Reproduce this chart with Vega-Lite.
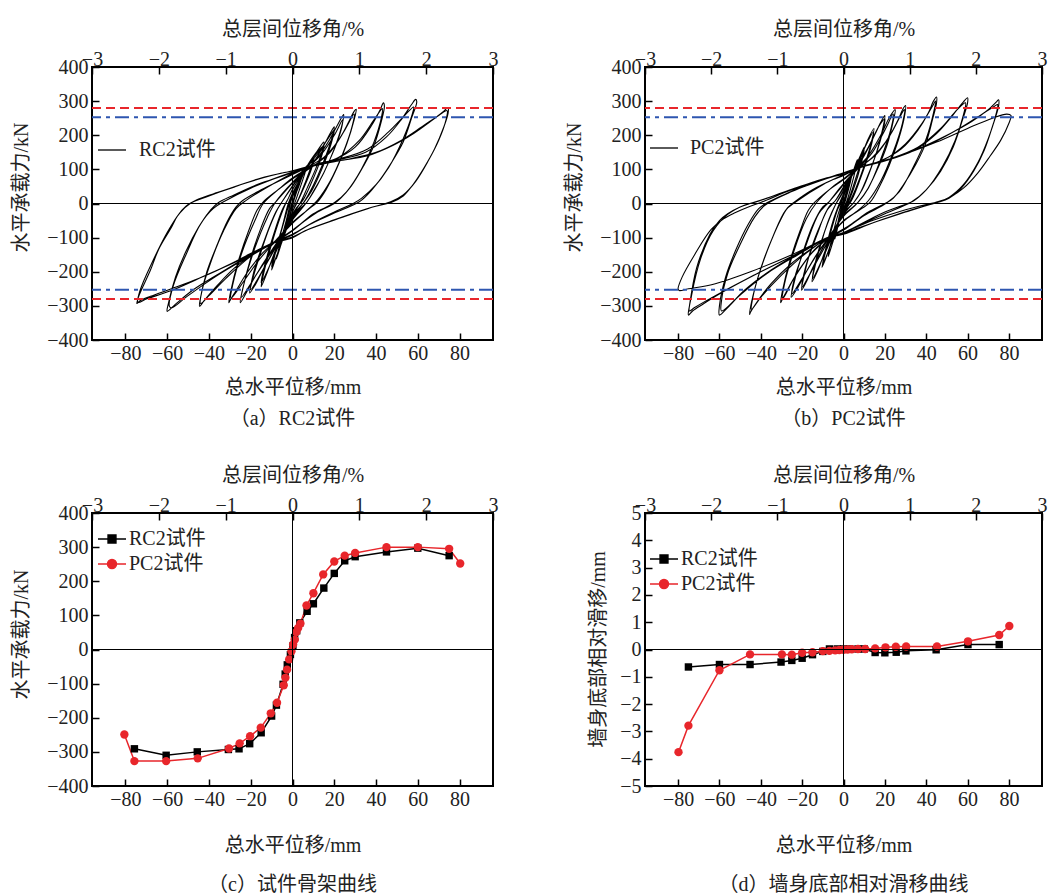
{
"$schema": "https://vega.github.io/schema/vega-lite/v6.json",
"padding": {"left": 10, "top": 18, "right": 0, "bottom": 0},
"background": "white",
"config": {
  "font": "Liberation Serif, Noto Sans CJK SC",
  "view": {"stroke": "black", "strokeWidth": 2},
  "axis": {"grid": false, "domain": false, "tickColor": "black", "tickWidth": 1.5, "tickSize": -7, "labelPadding": 11, "labelFontSize": 20, "titleFontSize": 20, "labelColor": "#222", "titleColor": "#222", "titleFontWeight": "normal", "labelFlush": false, "labelOverlap": false, "tickCount": 30, "labelFont": "Liberation Serif, Noto Sans CJK SC", "titleFont": "Liberation Serif, Noto Sans CJK SC"},
  "axisTop": {"labelPadding": 5},
  "axisBottom": {"labelPadding": 10},
  "legend": {"labelFontSize": 20, "labelColor": "#222", "padding": 0, "symbolSize": 784, "symbolStrokeWidth": 1.3, "labelFont": "Liberation Serif, Noto Sans CJK SC", "rowPadding": -11, "symbolOpacity": 1},
  "title": {"fontSize": 20, "fontWeight": "normal", "color": "#222", "font": "Liberation Serif, Noto Sans CJK SC"}
},
"datasets": {
  "zero": [{"v": 0}],
  "red": [{"y": 280}, {"y": -280}],
  "blue": [{"y": 253}, {"y": -253}],
  "legA": [{"k": "RC2试件", "x": 0, "y": 0}],
  "legB": [{"k": "PC2试件", "x": 0, "y": 0}],
  "legCD": [{"k": "RC2试件", "x": 0, "y": 0}, {"k": "PC2试件", "x": 0, "y": 0}],
  "rc": [
{"x":0,"y":0},{"x":1,"y":25},{"x":2,"y":50},{"x":1.2,"y":30},{"x":0,"y":0},{"x":-0.8,"y":-25},{"x":-1.5,"y":-45},{"x":-0.8,"y":-25},{"x":0,"y":0},
{"x":2,"y":45},{"x":4,"y":78},{"x":3,"y":55},{"x":1,"y":15},{"x":0,"y":-5},{"x":-2,"y":-50},{"x":-4.5,"y":-102},{"x":-3.5,"y":-75},{"x":-1.5,"y":-25},{"x":0,"y":5},
{"x":3,"y":50},{"x":5,"y":85},{"x":7,"y":112},{"x":6,"y":90},{"x":3,"y":35},{"x":1,"y":0},{"x":-1,"y":-30},{"x":-4,"y":-90},{"x":-7.7,"y":-163},{"x":-6.5,"y":-130},{"x":-3,"y":-50},{"x":-1,"y":0},{"x":0,"y":20},
{"x":3,"y":55},{"x":6,"y":95},{"x":8.5,"y":118},{"x":10,"y":134},{"x":9,"y":110},{"x":6,"y":60},{"x":3,"y":15},{"x":1,"y":-10},{"x":-2,"y":-55},{"x":-5,"y":-110},{"x":-8,"y":-160},{"x":-10,"y":-195},{"x":-9,"y":-165},{"x":-6,"y":-95},{"x":-3,"y":-30},{"x":-1.5,"y":0},{"x":0,"y":25},
{"x":3,"y":60},{"x":7,"y":105},{"x":10,"y":128},{"x":9,"y":100},{"x":5,"y":40},{"x":2,"y":0},{"x":0,"y":-25},{"x":-4,"y":-95},{"x":-7,"y":-145},{"x":-10,"y":-185},{"x":-8.5,"y":-145},{"x":-5,"y":-70},{"x":-2,"y":0},{"x":0,"y":30},
{"x":4,"y":75},{"x":8,"y":120},{"x":12,"y":155},{"x":15,"y":180},{"x":14,"y":150},{"x":11,"y":100},{"x":7,"y":45},{"x":4,"y":5},{"x":2,"y":-15},{"x":0,"y":-35},{"x":-4,"y":-85},{"x":-8,"y":-135},{"x":-12,"y":-200},{"x":-15,"y":-244},{"x":-14,"y":-210},{"x":-11,"y":-140},{"x":-7,"y":-60},{"x":-4,"y":-10},{"x":-2,"y":15},{"x":0,"y":40},
{"x":5,"y":90},{"x":10,"y":135},{"x":15,"y":170},{"x":13.5,"y":130},{"x":9,"y":60},{"x":5,"y":10},{"x":2,"y":-12},{"x":0,"y":-32},{"x":-5,"y":-100},{"x":-10,"y":-170},{"x":-15,"y":-232},{"x":-13.5,"y":-185},{"x":-9,"y":-90},{"x":-5,"y":-20},{"x":-2,"y":15},{"x":0,"y":42},
{"x":5,"y":85},{"x":10,"y":120},{"x":15,"y":170},{"x":18,"y":205},{"x":20,"y":225},{"x":19,"y":195},{"x":16,"y":140},{"x":12,"y":80},{"x":8,"y":30},{"x":5,"y":0},{"x":2,"y":-20},{"x":0,"y":-40},{"x":-5,"y":-95},{"x":-10,"y":-150},{"x":-15,"y":-205},{"x":-18,"y":-240},{"x":-20.5,"y":-262},{"x":-19,"y":-220},{"x":-15,"y":-140},{"x":-11,"y":-70},{"x":-7,"y":-15},{"x":-5,"y":5},{"x":0,"y":50},
{"x":6,"y":100},{"x":12,"y":145},{"x":17,"y":190},{"x":20,"y":215},{"x":18.5,"y":175},{"x":14,"y":100},{"x":9,"y":35},{"x":5,"y":0},{"x":0,"y":-40},{"x":-6,"y":-105},{"x":-12,"y":-170},{"x":-17,"y":-225},{"x":-20,"y":-252},{"x":-18.5,"y":-200},{"x":-13,"y":-100},{"x":-8,"y":-25},{"x":-5,"y":5},{"x":0,"y":52},
{"x":6,"y":105},{"x":12,"y":135},{"x":18,"y":190},{"x":22,"y":235},{"x":24.5,"y":261},{"x":23.5,"y":225},{"x":20,"y":160},{"x":15,"y":90},{"x":10,"y":35},{"x":7,"y":5},{"x":3,"y":-20},{"x":0,"y":-45},{"x":-6,"y":-105},{"x":-12,"y":-160},{"x":-18,"y":-215},{"x":-22,"y":-260},{"x":-25,"y":-291},{"x":-24,"y":-255},{"x":-20,"y":-160},{"x":-15,"y":-70},{"x":-11,"y":-15},{"x":-8,"y":5},{"x":0,"y":60},
{"x":8,"y":108},{"x":14,"y":145},{"x":20,"y":200},{"x":24,"y":245},{"x":23,"y":210},{"x":18,"y":130},{"x":12,"y":55},{"x":7,"y":5},{"x":0,"y":-48},{"x":-7,"y":-110},{"x":-14,"y":-175},{"x":-20,"y":-235},{"x":-24.5,"y":-275},{"x":-23,"y":-230},{"x":-18,"y":-130},{"x":-12,"y":-40},{"x":-8,"y":5},{"x":0,"y":62},
{"x":8,"y":108},{"x":15,"y":135},{"x":22,"y":185},{"x":27,"y":240},{"x":29.5,"y":270},{"x":30.5,"y":276},{"x":29.5,"y":245},{"x":26,"y":175},{"x":21,"y":100},{"x":16,"y":40},{"x":12,"y":5},{"x":7,"y":-20},{"x":0,"y":-55},{"x":-8,"y":-108},{"x":-15,"y":-150},{"x":-22,"y":-205},{"x":-27,"y":-255},{"x":-30,"y":-285},{"x":-30.5,"y":-291},{"x":-29.5,"y":-255},{"x":-26,"y":-170},{"x":-21,"y":-80},{"x":-17,"y":-20},{"x":-14,"y":5},{"x":-7,"y":40},{"x":0,"y":72},
{"x":10,"y":110},{"x":18,"y":150},{"x":25,"y":215},{"x":29.5,"y":262},{"x":28.5,"y":225},{"x":24,"y":145},{"x":18,"y":65},{"x":12,"y":10},{"x":6,"y":-25},{"x":0,"y":-58},{"x":-8,"y":-110},{"x":-16,"y":-165},{"x":-23,"y":-225},{"x":-29.5,"y":-278},{"x":-28.5,"y":-235},{"x":-24,"y":-140},{"x":-18,"y":-50},{"x":-14,"y":0},{"x":-6,"y":45},{"x":0,"y":75},
{"x":10,"y":110},{"x":20,"y":128},{"x":30,"y":165},{"x":38,"y":230},{"x":42,"y":275},{"x":43.5,"y":295},{"x":44,"y":285},{"x":42.5,"y":240},{"x":39,"y":170},{"x":34,"y":110},{"x":28,"y":50},{"x":23,"y":15},{"x":20,"y":0},{"x":12,"y":-25},{"x":5,"y":-55},{"x":0,"y":-78},{"x":-8,"y":-110},{"x":-18,"y":-145},{"x":-28,"y":-190},{"x":-36,"y":-240},{"x":-42,"y":-282},{"x":-44.5,"y":-301},{"x":-44,"y":-275},{"x":-41,"y":-200},{"x":-36,"y":-120},{"x":-31,"y":-50},{"x":-27,"y":-10},{"x":-24,"y":8},{"x":-15,"y":40},{"x":-5,"y":70},{"x":0,"y":85},
{"x":10,"y":112},{"x":22,"y":135},{"x":32,"y":185},{"x":39,"y":245},{"x":43,"y":278},{"x":42.5,"y":250},{"x":39,"y":180},{"x":33,"y":100},{"x":26,"y":35},{"x":20,"y":2},{"x":10,"y":-30},{"x":0,"y":-80},{"x":-8,"y":-112},{"x":-20,"y":-155},{"x":-32,"y":-220},{"x":-40,"y":-270},{"x":-44,"y":-293},{"x":-43.5,"y":-260},{"x":-39,"y":-170},{"x":-33,"y":-80},{"x":-27,"y":-15},{"x":-22,"y":10},{"x":-10,"y":55},{"x":0,"y":88},
{"x":10,"y":112},{"x":20,"y":126},{"x":35,"y":150},{"x":45,"y":195},{"x":52,"y":245},{"x":57,"y":290},{"x":59,"y":305},{"x":59.5,"y":298},{"x":57,"y":250},{"x":53,"y":180},{"x":47.5,"y":121},{"x":40,"y":55},{"x":33,"y":15},{"x":29,"y":0},{"x":20,"y":-25},{"x":10,"y":-55},{"x":0,"y":-90},{"x":-8,"y":-110},{"x":-20,"y":-150},{"x":-35,"y":-205},{"x":-48,"y":-255},{"x":-56,"y":-295},{"x":-60,"y":-316},{"x":-59.5,"y":-295},{"x":-56,"y":-215},{"x":-51,"y":-140},{"x":-45,"y":-70},{"x":-40,"y":-25},{"x":-36,"y":0},{"x":-28,"y":25},{"x":-15,"y":60},{"x":0,"y":90},
{"x":10,"y":112},{"x":22,"y":130},{"x":36,"y":160},{"x":46,"y":210},{"x":54,"y":260},{"x":58,"y":283},{"x":57,"y":255},{"x":53,"y":190},{"x":46,"y":105},{"x":38,"y":40},{"x":32,"y":5},{"x":20,"y":-28},{"x":8,"y":-62},{"x":0,"y":-92},{"x":-8,"y":-112},{"x":-22,"y":-160},{"x":-37,"y":-215},{"x":-50,"y":-270},{"x":-58,"y":-306},{"x":-59,"y":-300},{"x":-57,"y":-240},{"x":-51,"y":-150},{"x":-44,"y":-60},{"x":-38,"y":-15},{"x":-33,"y":5},{"x":-20,"y":45},{"x":0,"y":92},
{"x":10,"y":110},{"x":22,"y":125},{"x":36,"y":140},{"x":48,"y":170},{"x":58,"y":205},{"x":66,"y":240},{"x":72,"y":268},{"x":74.5,"y":281},{"x":74.5,"y":265},{"x":72.5,"y":225},{"x":68,"y":160},{"x":63,"y":105},{"x":58,"y":58},{"x":53,"y":22},{"x":47.5,"y":4},{"x":38,"y":-11},{"x":24,"y":-40},{"x":8,"y":-75},{"x":0,"y":-98},{"x":-8,"y":-112},{"x":-18,"y":-140},{"x":-30,"y":-178},{"x":-45,"y":-220},{"x":-58,"y":-250},{"x":-68,"y":-272},{"x":-73,"y":-285},{"x":-74.5,"y":-293},{"x":-73.5,"y":-270},{"x":-68,"y":-195},{"x":-64,"y":-133},{"x":-58,"y":-70},{"x":-55,"y":-36},{"x":-51,"y":-8},{"x":-46,"y":10},{"x":-38,"y":28},{"x":-28,"y":48},{"x":-15,"y":75},{"x":0,"y":96},
{"x":10,"y":112},{"x":25,"y":128},{"x":40,"y":150},{"x":52,"y":185},{"x":62,"y":225},{"x":70,"y":258},{"x":74,"y":272},{"x":73.5,"y":245},{"x":70,"y":185},{"x":65,"y":125},{"x":59,"y":65},{"x":53,"y":25},{"x":47,"y":5},{"x":36,"y":-15},{"x":20,"y":-48},{"x":6,"y":-80},{"x":0,"y":-100},{"x":-10,"y":-118},{"x":-25,"y":-165},{"x":-42,"y":-212},{"x":-58,"y":-255},{"x":-70,"y":-280},{"x":-74,"y":-290},{"x":-73,"y":-255},{"x":-67,"y":-170},{"x":-60,"y":-85},{"x":-54,"y":-28},{"x":-49,"y":0},{"x":-40,"y":22},{"x":-25,"y":55},{"x":-10,"y":82},{"x":0,"y":95}
  ],
  "pc": [
{"x":0,"y":0},{"x":0.5,"y":15},{"x":1.1,"y":29},{"x":0.5,"y":12},{"x":0,"y":0},{"x":-0.8,"y":-15},{"x":-1.6,"y":-29},{"x":-0.8,"y":-12},{"x":0,"y":0},
{"x":1.5,"y":35},{"x":2.7,"y":63},{"x":2,"y":40},{"x":0.5,"y":5},{"x":0,"y":-5},{"x":-1.5,"y":-35},{"x":-2.6,"y":-59},{"x":-1.8,"y":-35},{"x":0,"y":5},
{"x":2,"y":45},{"x":3.8,"y":76},{"x":3,"y":55},{"x":1,"y":10},{"x":0,"y":-8},{"x":-2,"y":-50},{"x":-4.2,"y":-105},{"x":-3.2,"y":-70},{"x":-1,"y":-10},{"x":0,"y":8},
{"x":3,"y":60},{"x":5,"y":100},{"x":6.7,"y":129},{"x":6,"y":105},{"x":3.5,"y":45},{"x":1.5,"y":5},{"x":0,"y":-15},{"x":-3,"y":-70},{"x":-5.5,"y":-120},{"x":-7.4,"y":-156},{"x":-6.5,"y":-125},{"x":-3.5,"y":-50},{"x":-1,"y":0},{"x":0,"y":20},
{"x":3,"y":65},{"x":6,"y":110},{"x":8.5,"y":145},{"x":10,"y":165},{"x":9,"y":135},{"x":6,"y":75},{"x":3,"y":20},{"x":1.5,"y":0},{"x":0,"y":-18},{"x":-3,"y":-65},{"x":-6,"y":-115},{"x":-8.5,"y":-160},{"x":-10.4,"y":-187},{"x":-9,"y":-150},{"x":-6,"y":-80},{"x":-3,"y":-20},{"x":-1.5,"y":0},{"x":0,"y":25},
{"x":4,"y":80},{"x":8,"y":135},{"x":10,"y":158},{"x":8.5,"y":115},{"x":5,"y":45},{"x":2,"y":0},{"x":0,"y":-20},{"x":-4,"y":-85},{"x":-8,"y":-150},{"x":-10.2,"y":-180},{"x":-8.5,"y":-130},{"x":-5,"y":-50},{"x":-2,"y":0},{"x":0,"y":28},
{"x":4,"y":80},{"x":8,"y":130},{"x":12,"y":190},{"x":14.7,"y":220},{"x":13.5,"y":180},{"x":10,"y":110},{"x":6,"y":45},{"x":3,"y":5},{"x":0,"y":-25},{"x":-4,"y":-75},{"x":-8,"y":-125},{"x":-12,"y":-190},{"x":-15.2,"y":-229},{"x":-14,"y":-190},{"x":-10.5,"y":-110},{"x":-7,"y":-45},{"x":-4,"y":-5},{"x":0,"y":35},
{"x":5,"y":95},{"x":10,"y":160},{"x":14.5,"y":210},{"x":13,"y":160},{"x":8,"y":70},{"x":4,"y":10},{"x":0,"y":-28},{"x":-5,"y":-90},{"x":-10,"y":-160},{"x":-15,"y":-220},{"x":-13.5,"y":-170},{"x":-9,"y":-80},{"x":-4,"y":-5},{"x":0,"y":38},
{"x":5,"y":90},{"x":10,"y":140},{"x":15,"y":200},{"x":18,"y":238},{"x":20,"y":258},{"x":19,"y":220},{"x":16,"y":150},{"x":12,"y":85},{"x":8,"y":30},{"x":5,"y":3},{"x":2,"y":-15},{"x":0,"y":-30},{"x":-5,"y":-80},{"x":-10,"y":-130},{"x":-15,"y":-190},{"x":-18,"y":-230},{"x":-20.3,"y":-254},{"x":-19,"y":-210},{"x":-15.5,"y":-130},{"x":-11,"y":-60},{"x":-7,"y":-10},{"x":-4,"y":8},{"x":0,"y":45},
{"x":6,"y":105},{"x":12,"y":165},{"x":17,"y":225},{"x":20,"y":248},{"x":18.5,"y":200},{"x":14,"y":115},{"x":9,"y":40},{"x":5,"y":3},{"x":0,"y":-32},{"x":-6,"y":-95},{"x":-12,"y":-160},{"x":-17,"y":-215},{"x":-20,"y":-245},{"x":-18.5,"y":-190},{"x":-13,"y":-95},{"x":-8,"y":-20},{"x":-4,"y":8},{"x":0,"y":48},
{"x":6,"y":100},{"x":12,"y":140},{"x":18,"y":200},{"x":22,"y":250},{"x":25,"y":275},{"x":24,"y":240},{"x":21,"y":170},{"x":16,"y":95},{"x":11,"y":35},{"x":7,"y":3},{"x":3,"y":-18},{"x":0,"y":-35},{"x":-6,"y":-90},{"x":-12,"y":-140},{"x":-18,"y":-200},{"x":-22,"y":-245},{"x":-25.3,"y":-275},{"x":-24,"y":-235},{"x":-20,"y":-150},{"x":-15,"y":-65},{"x":-10,"y":-10},{"x":-7,"y":5},{"x":0,"y":55},
{"x":7,"y":102},{"x":14,"y":150},{"x":20,"y":215},{"x":24,"y":262},{"x":23,"y":220},{"x":18,"y":130},{"x":12,"y":45},{"x":7,"y":3},{"x":0,"y":-38},{"x":-7,"y":-97},{"x":-14,"y":-160},{"x":-20,"y":-220},{"x":-25,"y":-265},{"x":-23.5,"y":-215},{"x":-18,"y":-120},{"x":-12,"y":-30},{"x":-7,"y":5},{"x":0,"y":58},
{"x":7,"y":102},{"x":14,"y":135},{"x":21,"y":185},{"x":26,"y":240},{"x":29,"y":280},{"x":30,"y":287},{"x":29.5,"y":255},{"x":26.5,"y":185},{"x":22,"y":110},{"x":17,"y":45},{"x":13,"y":5},{"x":7,"y":-22},{"x":0,"y":-50},{"x":-6.5,"y":-96},{"x":-14,"y":-135},{"x":-21,"y":-190},{"x":-26,"y":-240},{"x":-29.5,"y":-280},{"x":-30.4,"y":-291},{"x":-29.5,"y":-255},{"x":-26,"y":-170},{"x":-21,"y":-80},{"x":-17,"y":-20},{"x":-14,"y":3},{"x":-7,"y":40},{"x":0,"y":70},
{"x":7,"y":103},{"x":16,"y":145},{"x":23,"y":205},{"x":28,"y":262},{"x":29.5,"y":275},{"x":28.5,"y":235},{"x":24,"y":150},{"x":18,"y":65},{"x":12,"y":8},{"x":6,"y":-25},{"x":0,"y":-52},{"x":-7,"y":-98},{"x":-16,"y":-150},{"x":-24,"y":-220},{"x":-29.5,"y":-280},{"x":-28.5,"y":-235},{"x":-24,"y":-140},{"x":-18,"y":-45},{"x":-13,"y":3},{"x":-6,"y":45},{"x":0,"y":72},
{"x":7,"y":103},{"x":18,"y":125},{"x":28,"y":160},{"x":36,"y":215},{"x":41,"y":265},{"x":43.5,"y":300},{"x":45,"y":312},{"x":45,"y":295},{"x":43,"y":245},{"x":40,"y":180},{"x":35,"y":115},{"x":29,"y":55},{"x":24,"y":15},{"x":20,"y":0},{"x":12,"y":-25},{"x":5,"y":-55},{"x":0,"y":-75},{"x":-6.5,"y":-97},{"x":-15,"y":-130},{"x":-25,"y":-175},{"x":-35,"y":-235},{"x":-42,"y":-290},{"x":-45,"y":-319},{"x":-45.4,"y":-325},{"x":-44.5,"y":-290},{"x":-41,"y":-210},{"x":-36,"y":-125},{"x":-31,"y":-55},{"x":-27,"y":-12},{"x":-24,"y":3},{"x":-15,"y":40},{"x":-5,"y":70},{"x":0,"y":82},
{"x":7,"y":103},{"x":20,"y":130},{"x":30,"y":175},{"x":38,"y":235},{"x":43,"y":285},{"x":44.5,"y":300},{"x":43.5,"y":265},{"x":40,"y":190},{"x":34,"y":110},{"x":27,"y":35},{"x":21,"y":2},{"x":10,"y":-35},{"x":0,"y":-78},{"x":-7,"y":-99},{"x":-18,"y":-145},{"x":-30,"y":-210},{"x":-40,"y":-275},{"x":-44.5,"y":-310},{"x":-44,"y":-280},{"x":-40,"y":-190},{"x":-34,"y":-95},{"x":-28,"y":-20},{"x":-23,"y":5},{"x":-10,"y":55},{"x":0,"y":84},
{"x":7,"y":104},{"x":20,"y":125},{"x":34,"y":155},{"x":45,"y":205},{"x":53,"y":260},{"x":58,"y":298},{"x":60,"y":310},{"x":60,"y":295},{"x":57,"y":235},{"x":53,"y":165},{"x":47,"y":95},{"x":40,"y":40},{"x":34,"y":8},{"x":31,"y":0},{"x":20,"y":-25},{"x":10,"y":-55},{"x":0,"y":-85},{"x":-6.5,"y":-97},{"x":-20,"y":-140},{"x":-35,"y":-195},{"x":-48,"y":-255},{"x":-56,"y":-305},{"x":-60,"y":-327},{"x":-60,"y":-300},{"x":-57,"y":-215},{"x":-52,"y":-135},{"x":-46,"y":-60},{"x":-41,"y":-15},{"x":-37,"y":2},{"x":-28,"y":28},{"x":-15,"y":62},{"x":0,"y":88},
{"x":7,"y":104},{"x":22,"y":130},{"x":36,"y":165},{"x":47,"y":220},{"x":55,"y":275},{"x":59,"y":295},{"x":58,"y":260},{"x":54,"y":185},{"x":48,"y":110},{"x":40,"y":40},{"x":33,"y":5},{"x":20,"y":-30},{"x":8,"y":-62},{"x":0,"y":-88},{"x":-7,"y":-99},{"x":-22,"y":-150},{"x":-37,"y":-205},{"x":-50,"y":-268},{"x":-59,"y":-315},{"x":-59,"y":-285},{"x":-56,"y":-205},{"x":-50,"y":-120},{"x":-43,"y":-40},{"x":-38,"y":-5},{"x":-25,"y":35},{"x":0,"y":90},
{"x":7,"y":104},{"x":22,"y":128},{"x":36,"y":160},{"x":50,"y":200},{"x":62,"y":240},{"x":70,"y":275},{"x":74,"y":298},{"x":75,"y":304},{"x":75,"y":285},{"x":72,"y":225},{"x":68,"y":155},{"x":63,"y":95},{"x":57,"y":45},{"x":51,"y":15},{"x":45,"y":2},{"x":35,"y":-15},{"x":22,"y":-40},{"x":8,"y":-70},{"x":0,"y":-88},{"x":-6.5,"y":-98},{"x":-20,"y":-140},{"x":-40,"y":-200},{"x":-58,"y":-258},{"x":-68,"y":-295},{"x":-73,"y":-315},{"x":-75,"y":-327},{"x":-74.5,"y":-300},{"x":-71,"y":-188},{"x":-64.6,"y":-90},{"x":-60,"y":-50},{"x":-56,"y":-30},{"x":-50,"y":-10},{"x":-44,"y":2},{"x":-35,"y":20},{"x":-20,"y":52},{"x":0,"y":88},
{"x":7,"y":104},{"x":25,"y":135},{"x":42,"y":175},{"x":56,"y":220},{"x":67,"y":262},{"x":73,"y":285},{"x":74.5,"y":290},{"x":73.5,"y":255},{"x":70,"y":190},{"x":65,"y":120},{"x":58,"y":55},{"x":51,"y":18},{"x":44,"y":2},{"x":30,"y":-25},{"x":15,"y":-55},{"x":0,"y":-90},{"x":-7,"y":-100},{"x":-25,"y":-155},{"x":-45,"y":-215},{"x":-62,"y":-270},{"x":-72,"y":-305},{"x":-74.5,"y":-315},{"x":-73.5,"y":-270},{"x":-69,"y":-160},{"x":-63,"y":-80},{"x":-56,"y":-32},{"x":-48,"y":-5},{"x":-42,"y":5},{"x":-25,"y":42},{"x":0,"y":90},
{"x":7,"y":104},{"x":25,"y":135},{"x":45,"y":180},{"x":60,"y":220},{"x":72,"y":250},{"x":79,"y":262},{"x":81,"y":258},{"x":80,"y":235},{"x":76,"y":185},{"x":71,"y":140},{"x":65,"y":90},{"x":58,"y":45},{"x":52,"y":20},{"x":46,"y":5},{"x":40,"y":-3},{"x":28,"y":-22},{"x":14,"y":-50},{"x":0,"y":-85},{"x":-6.5,"y":-97},{"x":-25,"y":-150},{"x":-45,"y":-200},{"x":-62,"y":-235},{"x":-75,"y":-250},{"x":-79.5,"y":-255},{"x":-80,"y":-250},{"x":-78,"y":-215},{"x":-72,"y":-150},{"x":-64,"y":-76},{"x":-58,"y":-45},{"x":-52.5,"y":-27},{"x":-46,"y":-10},{"x":-40,"y":3},{"x":-25,"y":40},{"x":-10,"y":72},{"x":0,"y":85}
  ],
  "skelRC": [
{"x":-75.7,"y":-291},{"x":-60.5,"y":-310},{"x":-45.6,"y":-300},{"x":-30.7,"y":-293},{"x":-25.6,"y":-291},{"x":-20.5,"y":-276},{"x":-15,"y":-244},{"x":-10,"y":-195},{"x":-7.7,"y":-163},{"x":-4.5,"y":-102},{"x":-3.5,"y":-72},{"x":-2.5,"y":-45},{"x":-1,"y":-15},{"x":0.2,"y":10},{"x":1,"y":35},{"x":2,"y":55},{"x":3.5,"y":78},{"x":7,"y":112},{"x":10,"y":134},{"x":15,"y":180},{"x":20,"y":223},{"x":25,"y":260},{"x":30,"y":272},{"x":45,"y":286},{"x":60,"y":297},{"x":75,"y":275}
  ],
  "skelPC": [
{"x":-80.5,"y":-249},{"x":-75.7,"y":-327},{"x":-60.5,"y":-327},{"x":-45.4,"y":-319},{"x":-30.4,"y":-290},{"x":-25.3,"y":-275},{"x":-20.3,"y":-254},{"x":-15.2,"y":-229},{"x":-10.4,"y":-187},{"x":-7.4,"y":-156},{"x":-4.2,"y":-105},{"x":-3.4,"y":-83},{"x":-2.6,"y":-59},{"x":-1.6,"y":-29},{"x":-0.5,"y":-5},{"x":0.3,"y":15},{"x":1.1,"y":29},{"x":1.8,"y":51},{"x":2.7,"y":63},{"x":3.8,"y":76},{"x":6.7,"y":129},{"x":10,"y":165},{"x":14.7,"y":220},{"x":20,"y":258},{"x":25,"y":275},{"x":30,"y":283},{"x":45,"y":300},{"x":60,"y":300},{"x":75,"y":295},{"x":80.3,"y":252}
  ],
  "slipRC": [
{"x":-75,"y":-0.64},{"x":-60,"y":-0.55},{"x":-45.2,"y":-0.55},{"x":-30.2,"y":-0.46},{"x":-25,"y":-0.4},{"x":-20,"y":-0.32},{"x":-15,"y":-0.19},{"x":-10,"y":-0.07},{"x":-6.8,"y":0.02},{"x":-3,"y":0.02},{"x":0,"y":0.02},{"x":3,"y":0.02},{"x":7,"y":0.02},{"x":10,"y":0.02},{"x":15.3,"y":-0.11},{"x":20,"y":-0.12},{"x":25.5,"y":-0.1},{"x":30.2,"y":-0.05},{"x":44.8,"y":-0.01},{"x":60.2,"y":0.18},{"x":75.3,"y":0.18}
  ],
  "slipPC": [
{"x":-79.8,"y":-3.76},{"x":-75,"y":-2.79},{"x":-60,"y":-0.76},{"x":-45.2,"y":-0.18},{"x":-29.8,"y":-0.18},{"x":-25,"y":-0.19},{"x":-20,"y":-0.12},{"x":-15,"y":-0.1},{"x":-10,"y":-0.06},{"x":-6.8,"y":-0.05},{"x":-4,"y":-0.03},{"x":-2,"y":-0.02},{"x":0,"y":-0.01},{"x":2,"y":0},{"x":4,"y":0.01},{"x":7,"y":0.02},{"x":10.5,"y":0.02},{"x":15.3,"y":0.04},{"x":20.3,"y":0.08},{"x":25.3,"y":0.1},{"x":30.3,"y":0.11},{"x":45.2,"y":0.11},{"x":60.2,"y":0.3},{"x":75.3,"y":0.53},{"x":80.2,"y":0.86}
  ]
},
"columns": 2,
"spacing": {"row": 173, "column": 152},
"bounds": "flush",
"resolve": {"scale": {"x": "independent", "y": "independent", "color": "independent", "shape": "independent", "stroke": "independent"}},
"concat": [
 {
  "width": 401, "height": 273,
  "title": {"text": "（a）RC2试件", "orient": "bottom", "offset": 12},
  "layer": [
   {"layer": [
     {"data": {"name": "rc"}, "mark": {"type": "line", "color": "black", "strokeWidth": 1.1, "interpolate": "catmull-rom"},
      "encoding": {
       "x": {"field": "x", "type": "quantitative", "scale": {"domain": [-96, 96], "nice": false, "zero": false}, "axis": {"orient": "bottom", "values": [-80,-60,-40,-20,0,20,40,60,80], "format": "d", "tickCount": 30, "title": "总水平位移/mm", "titlePadding": 14, "labelOverlap": false}},
       "y": {"field": "y", "type": "quantitative", "scale": {"domain": [-400, 400], "nice": false}, "axis": {"values": [-400,-300,-200,-100,0,100,200,300,400], "format": "d", "tickCount": 30, "title": "水平承载力/kN", "titleY": 120, "titlePadding": 15, "labelOverlap": false}},
       "order": {"value": null}
      }},
     {"data": {"name": "legA"}, "mark": {"type": "line"},
      "encoding": {"x": {"field": "x", "type": "quantitative"}, "y": {"field": "y", "type": "quantitative"},
       "color": {"field": "k", "type": "nominal", "scale": {"range": ["black"]}, "legend": {"orient": "none", "legendX": 5, "legendY": 68, "symbolType": "stroke", "labelOffset": 12, "title": null}}}},
     {"data": {"name": "zero"}, "mark": {"type": "rule", "color": "black", "strokeWidth": 1}, "encoding": {"y": {"field": "v", "type": "quantitative"}}},
     {"data": {"name": "red"}, "mark": {"type": "rule", "color": "#e8262b", "strokeWidth": 2, "strokeDash": [9, 5]}, "encoding": {"y": {"field": "y", "type": "quantitative"}}},
     {"data": {"name": "blue"}, "mark": {"type": "rule", "color": "#2e56b0", "strokeWidth": 2, "strokeDash": [14, 5, 4, 5]}, "encoding": {"y": {"field": "y", "type": "quantitative"}}}
   ]},
   {"data": {"name": "zero"}, "mark": {"type": "rule", "color": "black", "strokeWidth": 1},
    "encoding": {"x": {"field": "v", "type": "quantitative", "scale": {"domain": [-3, 3], "nice": false, "zero": false}, "axis": {"orient": "top", "values": [-3,-2,-1,0,1,2,3], "format": "d", "tickCount": 30, "title": "总层间位移角/%", "titlePadding": 10, "labelOverlap": false}}}}
  ],
  "resolve": {"scale": {"x": "independent"}}
 },
 {
  "width": 397, "height": 273,
  "title": {"text": "（b）PC2试件", "orient": "bottom", "offset": 12},
  "layer": [
   {"layer": [
     {"data": {"name": "pc"}, "mark": {"type": "line", "color": "black", "strokeWidth": 1.1, "interpolate": "catmull-rom"},
      "encoding": {
       "x": {"field": "x", "type": "quantitative", "scale": {"domain": [-96, 96], "nice": false, "zero": false}, "axis": {"orient": "bottom", "values": [-80,-60,-40,-20,0,20,40,60,80], "format": "d", "tickCount": 30, "title": "总水平位移/mm", "titlePadding": 14, "labelOverlap": false}},
       "y": {"field": "y", "type": "quantitative", "scale": {"domain": [-400, 400], "nice": false}, "axis": {"values": [-400,-300,-200,-100,0,100,200,300,400], "format": "d", "tickCount": 30, "title": "水平承载力/kN", "titleY": 120, "titlePadding": 15, "labelOverlap": false}},
       "order": {"value": null}
      }},
     {"data": {"name": "legB"}, "mark": {"type": "line"},
      "encoding": {"x": {"field": "x", "type": "quantitative"}, "y": {"field": "y", "type": "quantitative"},
       "color": {"field": "k", "type": "nominal", "scale": {"range": ["black"]}, "legend": {"orient": "none", "legendX": 4, "legendY": 66, "symbolType": "stroke", "labelOffset": 11, "title": null}}}},
     {"data": {"name": "zero"}, "mark": {"type": "rule", "color": "black", "strokeWidth": 1}, "encoding": {"y": {"field": "v", "type": "quantitative"}}},
     {"data": {"name": "red"}, "mark": {"type": "rule", "color": "#e8262b", "strokeWidth": 2, "strokeDash": [9, 5]}, "encoding": {"y": {"field": "y", "type": "quantitative"}}},
     {"data": {"name": "blue"}, "mark": {"type": "rule", "color": "#2e56b0", "strokeWidth": 2, "strokeDash": [14, 5, 4, 5]}, "encoding": {"y": {"field": "y", "type": "quantitative"}}}
   ]},
   {"data": {"name": "zero"}, "mark": {"type": "rule", "color": "black", "strokeWidth": 1},
    "encoding": {"x": {"field": "v", "type": "quantitative", "scale": {"domain": [-3, 3], "nice": false, "zero": false}, "axis": {"orient": "top", "values": [-3,-2,-1,0,1,2,3], "format": "d", "tickCount": 30, "title": "总层间位移角/%", "titlePadding": 10, "labelOverlap": false}}}}
  ],
  "resolve": {"scale": {"x": "independent"}}
 },
 {
  "width": 401, "height": 273,
  "title": {"text": "（c）试件骨架曲线", "orient": "bottom", "offset": 20},
  "layer": [
   {"layer": [
     {"data": {"name": "skelRC"}, "mark": {"type": "line", "color": "black", "strokeWidth": 1.5},
      "encoding": {
       "x": {"field": "x", "type": "quantitative", "scale": {"domain": [-96, 96], "nice": false, "zero": false}, "axis": {"orient": "bottom", "values": [-80,-60,-40,-20,0,20,40,60,80], "format": "d", "tickCount": 30, "title": "总水平位移/mm", "titlePadding": 26, "labelOverlap": false}},
       "y": {"field": "y", "type": "quantitative", "scale": {"domain": [-400, 400], "nice": false}, "axis": {"values": [-400,-300,-200,-100,0,100,200,300,400], "format": "d", "tickCount": 30, "title": "水平承载力/kN", "titleY": 121, "titlePadding": 15, "labelOverlap": false}}
      }},
     {"data": {"name": "skelPC"}, "mark": {"type": "line", "color": "#e8262b", "strokeWidth": 1.5},
      "encoding": {"x": {"field": "x", "type": "quantitative"}, "y": {"field": "y", "type": "quantitative"}}},
     {"data": {"name": "skelRC"}, "mark": {"type": "point", "shape": "square", "filled": true, "opacity": 1, "color": "black", "size": 55},
      "encoding": {"x": {"field": "x", "type": "quantitative"}, "y": {"field": "y", "type": "quantitative"}}},
     {"data": {"name": "skelPC"}, "mark": {"type": "point", "shape": "circle", "filled": true, "opacity": 1, "color": "#e8262b", "size": 70},
      "encoding": {"x": {"field": "x", "type": "quantitative"}, "y": {"field": "y", "type": "quantitative"}}},
     {"data": {"name": "legCD"}, "mark": {"type": "point", "filled": true, "opacity": 0},
      "encoding": {"x": {"field": "x", "type": "quantitative"}, "y": {"field": "y", "type": "quantitative"},
       "color": {"field": "k", "type": "nominal", "scale": {"domain": ["RC2试件", "PC2试件"], "range": ["black", "#e8262b"]}, "legend": {"orient": "none", "legendX": 5, "legendY": 11, "labelOffset": 2, "title": null, "symbolStrokeWidth": 1.5}},
       "stroke": {"field": "k", "type": "nominal", "scale": {"domain": ["RC2试件", "PC2试件"], "range": ["black", "#e8262b"]}, "legend": {"orient": "none", "legendX": 5, "legendY": 11, "labelOffset": 2, "title": null, "symbolStrokeWidth": 1.5}},
       "shape": {"field": "k", "type": "nominal", "scale": {"domain": ["RC2试件", "PC2试件"], "range": ["M-1,0H1M-0.28,-0.28H0.28V0.28H-0.28Z", "M-1,0H1M-0.32,0A0.32,0.32 0 1,1 0.32,0A0.32,0.32 0 1,1 -0.32,0Z"]}, "legend": {"orient": "none", "legendX": 5, "legendY": 11, "labelOffset": 2, "title": null, "symbolStrokeWidth": 1.5}}
      }},
     {"data": {"name": "zero"}, "mark": {"type": "rule", "color": "black", "strokeWidth": 1}, "encoding": {"y": {"field": "v", "type": "quantitative"}}}
   ]},
   {"data": {"name": "zero"}, "mark": {"type": "rule", "color": "black", "strokeWidth": 1},
    "encoding": {"x": {"field": "v", "type": "quantitative", "scale": {"domain": [-3, 3], "nice": false, "zero": false}, "axis": {"orient": "top", "values": [-3,-2,-1,0,1,2,3], "format": "d", "tickCount": 30, "title": "总层间位移角/%", "titlePadding": 10, "labelOverlap": false}}}}
  ],
  "resolve": {"scale": {"x": "independent"}}
 },
 {
  "width": 397, "height": 273,
  "title": {"text": "（d）墙身底部相对滑移曲线", "orient": "bottom", "offset": 20},
  "layer": [
   {"layer": [
     {"data": {"name": "slipRC"}, "mark": {"type": "line", "color": "black", "strokeWidth": 1.5},
      "encoding": {
       "x": {"field": "x", "type": "quantitative", "scale": {"domain": [-96, 96], "nice": false, "zero": false}, "axis": {"orient": "bottom", "values": [-80,-60,-40,-20,0,20,40,60,80], "format": "d", "tickCount": 30, "title": "总水平位移/mm", "titlePadding": 26, "labelOverlap": false}},
       "y": {"field": "y", "type": "quantitative", "scale": {"domain": [-5, 5], "nice": false}, "axis": {"values": [-5,-4,-3,-2,-1,0,1,2,3,4,5], "format": "d", "tickCount": 30, "title": "墙身底部相对滑移/mm", "titleY": 136, "titlePadding": 11, "labelOverlap": false}}
      }},
     {"data": {"name": "slipPC"}, "mark": {"type": "line", "color": "#e8262b", "strokeWidth": 1.5},
      "encoding": {"x": {"field": "x", "type": "quantitative"}, "y": {"field": "y", "type": "quantitative"}}},
     {"data": {"name": "slipRC"}, "mark": {"type": "point", "shape": "square", "filled": true, "opacity": 1, "color": "black", "size": 55},
      "encoding": {"x": {"field": "x", "type": "quantitative"}, "y": {"field": "y", "type": "quantitative"}}},
     {"data": {"name": "slipPC"}, "mark": {"type": "point", "shape": "circle", "filled": true, "opacity": 1, "color": "#e8262b", "size": 70},
      "encoding": {"x": {"field": "x", "type": "quantitative"}, "y": {"field": "y", "type": "quantitative"}}},
     {"data": {"name": "legCD"}, "mark": {"type": "point", "filled": true, "opacity": 0},
      "encoding": {"x": {"field": "x", "type": "quantitative"}, "y": {"field": "y", "type": "quantitative"},
       "color": {"field": "k", "type": "nominal", "scale": {"domain": ["RC2试件", "PC2试件"], "range": ["black", "#e8262b"]}, "legend": {"orient": "none", "legendX": 4, "legendY": 31, "labelOffset": 2, "title": null, "symbolStrokeWidth": 1.5}},
       "stroke": {"field": "k", "type": "nominal", "scale": {"domain": ["RC2试件", "PC2试件"], "range": ["black", "#e8262b"]}, "legend": {"orient": "none", "legendX": 4, "legendY": 31, "labelOffset": 2, "title": null, "symbolStrokeWidth": 1.5}},
       "shape": {"field": "k", "type": "nominal", "scale": {"domain": ["RC2试件", "PC2试件"], "range": ["M-1,0H1M-0.28,-0.28H0.28V0.28H-0.28Z", "M-1,0H1M-0.32,0A0.32,0.32 0 1,1 0.32,0A0.32,0.32 0 1,1 -0.32,0Z"]}, "legend": {"orient": "none", "legendX": 4, "legendY": 31, "labelOffset": 2, "title": null, "symbolStrokeWidth": 1.5}}
      }},
     {"data": {"name": "zero"}, "mark": {"type": "rule", "color": "black", "strokeWidth": 1}, "encoding": {"y": {"field": "v", "type": "quantitative"}}}
   ]},
   {"data": {"name": "zero"}, "mark": {"type": "rule", "color": "black", "strokeWidth": 1},
    "encoding": {"x": {"field": "v", "type": "quantitative", "scale": {"domain": [-3, 3], "nice": false, "zero": false}, "axis": {"orient": "top", "values": [-3,-2,-1,0,1,2,3], "format": "d", "tickCount": 30, "title": "总层间位移角/%", "titlePadding": 10, "labelOverlap": false}}}}
  ],
  "resolve": {"scale": {"x": "independent"}}
 }
]
}
